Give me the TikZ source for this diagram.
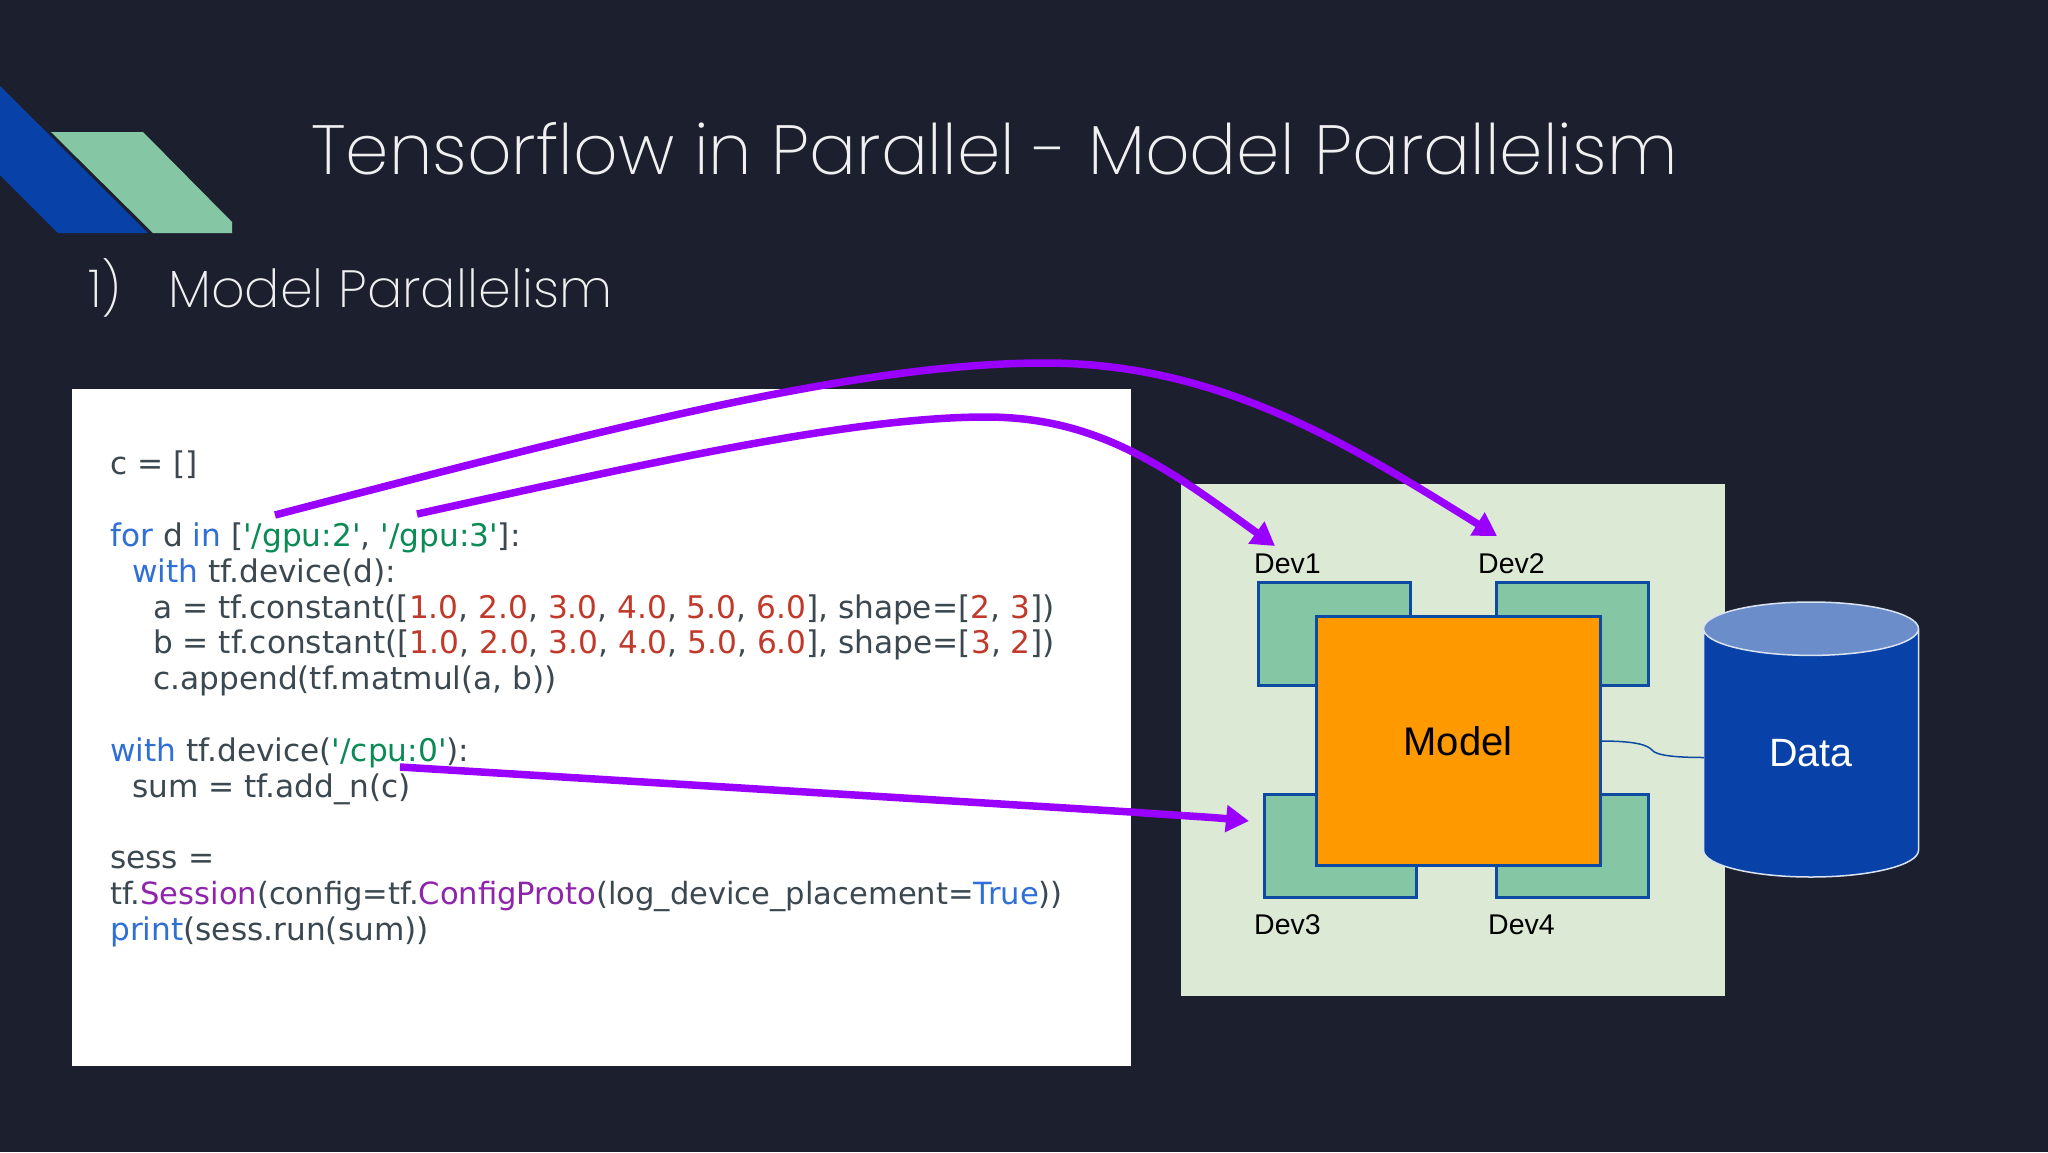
\documentclass[tikz,border=0pt]{standalone}
\usepackage{fontspec}
\usepackage{xcolor}
\usetikzlibrary{arrows.meta}
\usetikzlibrary{shapes.geometric}
\setmainfont{Liberation Sans}
\newfontfamily\slidefont{Poppins ExtraLight}
\newfontfamily\codefont{DejaVu Sans}
\definecolor{slidebg}{HTML}{1C202E}
\definecolor{logoblue}{HTML}{0842A8}
\definecolor{logogreen}{HTML}{85C7A5}
\definecolor{backdrop}{HTML}{DCE9D5}
\definecolor{modelfill}{HTML}{FF9900}
\definecolor{edgeblue}{HTML}{0D4BA0}
\definecolor{cyltop}{HTML}{6B8ECB}
\definecolor{arrowviolet}{HTML}{9900FF}
\definecolor{codegray}{HTML}{3C4850}
\definecolor{codeblue}{HTML}{2F6FD6}
\definecolor{codegreen}{HTML}{0A8A55}
\definecolor{codered}{HTML}{C0392B}
\definecolor{codepurple}{HTML}{8E24AA}
\newcommand{\kw}[1]{\textcolor{codeblue}{#1}}
\newcommand{\st}[1]{\textcolor{codegreen}{#1}}
\newcommand{\nm}[1]{\textcolor{codered}{#1}}
\newcommand{\cl}[1]{\textcolor{codepurple}{#1}}
\tikzset{
  codeline/.style={anchor=base west, inner sep=0, text=codegray, font=\codefont\fontsize{31.2}{36}\selectfont},
  devbox/.style={draw=edgeblue, fill=logogreen, line width=3pt, minimum width=152, minimum height=103, inner sep=0, outer sep=0},
  devlabel/.style={anchor=base west, inner sep=0, font=\fontsize{28.5}{32}\selectfont},
  callout/.style={draw=arrowviolet, line width=7.5pt, -{Triangle[length=23pt,width=26pt]}},
}
\begin{document}
\begin{tikzpicture}[x=1pt,y=-1pt]
\useasboundingbox[fill=slidebg] (0,0) rectangle (2048,1152);
\fill[logoblue] (0,86)--(148,233)--(58,233)--(0,175)--cycle;
\fill[logogreen] (51,132)--(143,132)--(232,222)--(232,233)--(153,233)--cycle;
\node[anchor=base west, inner sep=0, text=white!94!black, font=\slidefont\fontsize{69.6}{80}\selectfont] (slidetitle) at (311,174) {Tensorflow in Parallel - Model Parallelism};
\node[anchor=base west, inner sep=0, text=white!94!black, font=\slidefont\fontsize{52.4}{60}\selectfont] (listnum) at (88,307) {1)};
\node[anchor=base west, inner sep=0, text=white!94!black, font=\slidefont\fontsize{52.4}{60}\selectfont] (subtitle) at (168,307) {Model Parallelism};

\fill[white] (72,389) rectangle (1131,1066);
\node[codeline] (codeA) at (110,474) {c = []};
\node[codeline] (codeB) at (110,546) {\kw{for} d \kw{in} [\st{'/gpu:2'}, \st{'/gpu:3'}]:};
\node[codeline] (codeC) at (132,582) {\kw{with} tf.device(d):};
\node[codeline] (codeD) at (153,618) {a = tf.constant([\nm{1.0}, \nm{2.0}, \nm{3.0}, \nm{4.0}, \nm{5.0}, \nm{6.0}], shape=[\nm{2}, \nm{3}])};
\node[codeline] (codeE) at (153,653.5) {b = tf.constant([\nm{1.0}, \nm{2.0}, \nm{3.0}, \nm{4.0}, \nm{5.0}, \nm{6.0}], shape=[\nm{3}, \nm{2}])};
\node[codeline] (codeF) at (153,689) {c.append(tf.matmul(a, b))};
\node[codeline] (codeG) at (110,761) {\kw{with} tf.device(\st{'/cpu:0'}):};
\node[codeline] (codeH) at (132,797) {sum = tf.add\_n(c)};
\node[codeline] (codeI) at (110,868) {sess =};
\node[codeline, font=\codefont\fontsize{30.6}{36}\selectfont] (codeJ) at (110,904) {tf.\cl{Session}(config=tf.\cl{ConfigProto}(log\_device\_placement=\kw{True}))};
\node[codeline] (codeK) at (110,940.5) {\kw{print}(sess.run(sum))};

\fill[backdrop] (1181,484) rectangle (1725,996);
\node[devbox] (devA) at (1334,633.5) {};
\node[devbox] (devB) at (1572,633.5) {};
\node[devbox] (devC) at (1340.5,845.5) {};
\node[devbox] (devD) at (1572,845.5) {};
\node[draw=edgeblue, fill=modelfill, line width=3pt, minimum width=284, minimum height=249, inner sep=0, outer sep=0, font=\fontsize{40}{46}\selectfont] (model) at (1458,741) {Model};
\node[devlabel] (labelA) at (1254,573) {Dev1};
\node[devlabel] (labelB) at (1478,573) {Dev2};
\node[devlabel] (labelC) at (1254,934) {Dev3};
\node[devlabel] (labelD) at (1488,934) {Dev4};

\node[cylinder, shape border rotate=90, aspect=0.64, anchor=shape center, draw=white!85!logoblue, line width=1.5pt, cylinder uses custom fill, cylinder body fill=logoblue, cylinder end fill=cyltop, minimum width=215, minimum height=275, inner sep=0, outer sep=0, text=white, font=\fontsize{39.5}{44}\selectfont] (data) at (1811,739.5) {Data};
\coordinate (dataport) at (1704,757.5);
\draw[edgeblue, line width=1.5pt] (model.east) .. controls (1640,741) and (1648,746) .. (1652,750) .. controls (1656,756) and (1680,757.5) .. (dataport);

\coordinate (gpuA) at (275,515);
\coordinate (gpuB) at (417,514);
\coordinate (cpuA) at (400,767);
\coordinate (topA) at (1045,363);
\coordinate (topB) at (986,417);
\coordinate (midC) at (1131,812);
\coordinate (targetB) at (1497,536);
\coordinate (targetA) at (1275,546);
\coordinate (targetC) at (1249,821);
\draw[callout] (gpuA) .. controls (620,425) and (860,363) .. (topA) .. controls (1220,363) and (1350,445) .. (targetB);
\draw[callout] (gpuB) .. controls (640,465) and (850,417) .. (topB) .. controls (1100,417) and (1170,470) .. (targetA);
\draw[callout] (cpuA) -- (midC) .. controls (1170,815) and (1210,817) .. (targetC);
\end{tikzpicture}
\end{document}
